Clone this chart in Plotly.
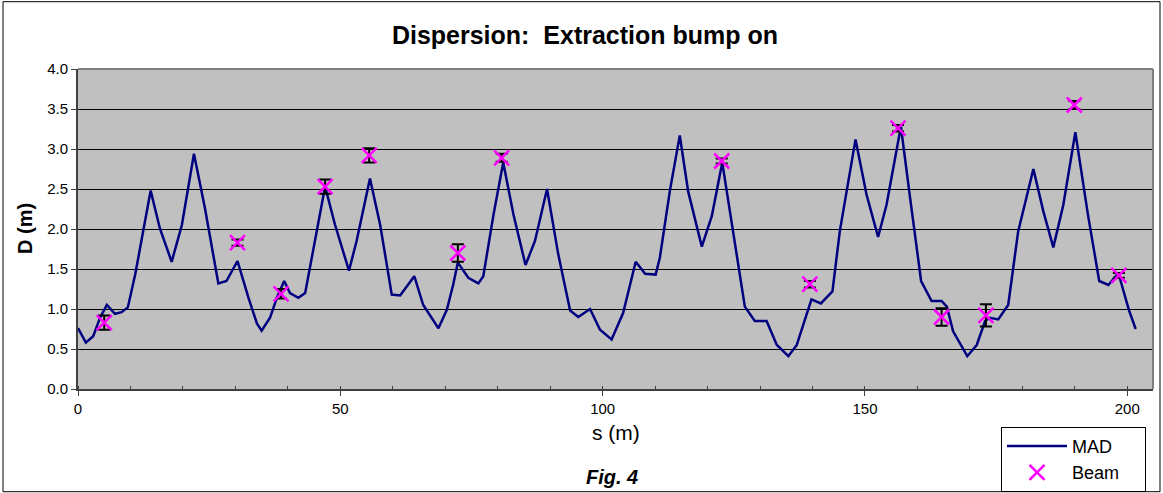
import plotly.graph_objects as go

# MAD model dispersion
mad_s = [0, 1.5, 2.9, 4.2, 5.5, 7.05, 8.3, 9.5, 10.9, 12.5,
         13.85, 15.6, 17.85, 19.8, 22.1, 24.2, 26.75, 28.3, 30.4, 32.5,
         34.1, 35.0, 36.6, 37.9, 39.3, 40.4, 42.0, 43.3, 45.2, 47.1,
         49.0, 51.65, 53.1, 55.65, 57.6, 59.8, 61.4, 64.1, 65.8, 68.7,
         70.3, 71.5, 72.4, 74.4, 76.3, 77.25, 79.2, 81.05, 83.0, 85.3,
         87.1, 89.4, 91.55, 93.8, 95.35, 97.6, 99.5, 101.7, 103.9, 105.2,
         106.3, 108.1, 110.1, 110.9, 112.8, 114.7, 116.3, 118.9, 120.8, 122.8,
         124.9, 127.1, 129.0, 131.25, 133.2, 135.4, 137.0, 138.2, 139.8, 141.6,
         143.8, 145.2, 148.2, 150.3, 152.5, 154.1, 156.85, 158.6, 160.7, 162.7,
         164.6, 165.6, 166.8, 169.5, 171.3, 172.9, 173.8, 175.4, 177.3, 179.2,
         182.1, 184.0, 185.9, 187.8, 190.1, 192.5, 194.65, 196.4, 198.3, 200.3,
         201.6]
mad_d = [0.76, 0.58, 0.66, 0.89, 1.05, 0.94, 0.96, 1.02, 1.43, 2.01,
         2.48, 2.01, 1.59, 2.05, 2.94, 2.26, 1.32, 1.35, 1.60, 1.14,
         0.82, 0.73, 0.89, 1.14, 1.35, 1.20, 1.14, 1.20, 1.85, 2.53,
         2.05, 1.48, 1.85, 2.63, 2.05, 1.18, 1.17, 1.41, 1.05, 0.76,
         0.99, 1.30, 1.58, 1.39, 1.32, 1.41, 2.18, 2.83, 2.18, 1.55,
         1.85, 2.50, 1.68, 0.98, 0.90, 1.00, 0.74, 0.62, 0.95, 1.30,
         1.59, 1.44, 1.43, 1.64, 2.47, 3.17, 2.47, 1.78, 2.16, 2.83,
         1.97, 1.03, 0.85, 0.85, 0.55, 0.41, 0.55, 0.80, 1.12, 1.07,
         1.22, 1.97, 3.12, 2.43, 1.90, 2.30, 3.28, 2.39, 1.35, 1.10,
         1.10, 1.03, 0.72, 0.41, 0.55, 0.85, 0.89, 0.87, 1.05, 1.97,
         2.75, 2.22, 1.77, 2.30, 3.21, 2.18, 1.35, 1.30, 1.45, 0.99,
         0.75]

# Beam measurements
beam_s = [5.0, 30.4, 38.7, 47.1, 55.5, 72.4, 80.75, 122.7, 139.5, 156.3, 164.6, 173.05, 189.9, 198.4]
beam_d = [0.83, 1.83, 1.19, 2.53, 2.92, 1.70, 2.89, 2.85, 1.31, 3.26, 0.90, 0.92, 3.55, 1.42]
beam_err = [0.09, 0.04, 0.06, 0.09, 0.09, 0.11, 0.05, 0.03, 0.04, 0.04, 0.11, 0.14, 0.05, 0.03]

y_ticks = [0.0, 0.5, 1.0, 1.5, 2.0, 2.5, 3.0, 3.5, 4.0]
x_ticks = [0, 50, 100, 150, 200]

FONT = "Liberation Sans, Arial, sans-serif"
PAD = "\u00a0\u00a0\u00a0\u00a0"

fig = go.Figure()
fig.add_trace(go.Scatter(
    x=mad_s, y=mad_d, mode="lines", name="MAD" + PAD,
    line=dict(color="#000080", width=2.5),
))
fig.add_trace(go.Scatter(
    x=beam_s, y=beam_d, mode="markers", name="Beam" + PAD,
    marker=dict(symbol="x-thin", size=15, line=dict(color="#FF00FF", width=2.5), color="#FF00FF"),
    error_y=dict(type="data", array=beam_err, color="black", thickness=2, width=6),
))

fig.update_layout(
    width=1163, height=493,
    margin=dict(l=78, r=10, t=69, b=104, autoexpand=False),
    paper_bgcolor="white",
    plot_bgcolor="#C0C0C0",
    font=dict(family=FONT, color="black", size=15),
    title=dict(text="<b>Dispersion:\u00a0 Extraction bump on</b>",
               x=0.503, xanchor="center", y=1 - 35 / 493, yanchor="middle",
               font=dict(size=25, family=FONT, color="black")),
    showlegend=True,
    legend=dict(x=(1001 - 78) / 1075, y=(389.3 - 427) / 320, xanchor="left", yanchor="top",
                bgcolor="white", bordercolor="black", borderwidth=1,
                font=dict(size=18, family=FONT), itemwidth=60,
                tracegroupgap=0),
    xaxis=dict(range=[0, 204.9], tickvals=x_ticks, ticks="outside", ticklen=5,
               tickwidth=1, tickcolor="#404040", automargin=False,
               minor=dict(dtick=10, ticks="inside", ticklen=3, tickcolor="#404040", showgrid=False),
               showgrid=False, zeroline=False, showline=True, linecolor="#404040", linewidth=2,
               tickfont=dict(size=15)),
    yaxis=dict(range=[0, 4], tickvals=y_ticks, tickformat=".1f", ticks="outside", ticklen=5,
               tickcolor="#404040", automargin=False,
               showgrid=True, gridcolor="black", gridwidth=1, zeroline=False,
               showline=True, linecolor="#404040", linewidth=2,
               tickfont=dict(size=15)),
    shapes=[
        dict(type="line", xref="paper", yref="paper", x0=0, x1=1, y0=1, y1=1,
             line=dict(color="#808080", width=2)),
        dict(type="line", xref="paper", yref="paper", x0=1, x1=1, y0=0, y1=1,
             line=dict(color="#808080", width=2)),
        dict(type="rect", xref="paper", yref="paper",
             x0=(3 - 78) / 1075, x1=(1160 - 78) / 1075,
             y0=(389.3 - 492) / 320, y1=(389.3 - 2) / 320,
             line=dict(color="black", width=1)),
    ],
    annotations=[
        dict(text="s (m)", xref="paper", yref="paper", x=0.5, y=(389.3 - 433) / 320,
             xanchor="center", yanchor="middle", showarrow=False,
             font=dict(size=21, family=FONT)),
        dict(text="<b>D (m)</b>", xref="paper", yref="paper", x=(25 - 78) / 1075, y=0.5,
             xanchor="center", yanchor="middle", showarrow=False, textangle=-90,
             font=dict(size=20, family=FONT)),
        dict(text="<b><i>Fig. 4</i></b>", xref="paper", yref="paper", x=(612 - 78) / 1075,
             y=(389.3 - 477) / 320, xanchor="center", yanchor="middle", showarrow=False,
             font=dict(size=20, family=FONT)),
    ],
)

fig.write_html("out.html", config={"displayModeBar": False},
               post_script="document.body.style.margin='0';")
